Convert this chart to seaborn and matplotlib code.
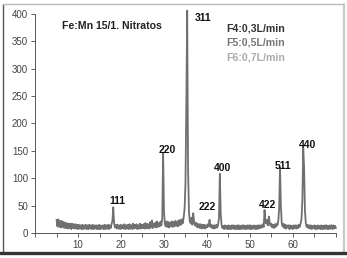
import numpy as np
import pandas as pd
import seaborn as sns
import matplotlib.pyplot as plt
from matplotlib.lines import Line2D

# 2-theta grid, 0.2 deg step from 5 to 70
two_theta = np.round(np.arange(5.0, 70.01, 0.2), 1)

# intensity (5 values per degree)
intensity = [
    24, 12, 25, 11, 22,   # 5
    10, 22, 11, 20, 9,    # 6
    19, 9, 18, 8, 17,     # 7
    9, 17, 7, 17, 9,      # 8
    16, 8, 16, 8, 15,     # 9
    7, 15, 8, 14, 7,      # 10
    15, 7, 14, 8, 15,     # 11
    7, 14, 7, 15, 8,      # 12
    14, 7, 15, 7, 14,     # 13
    8, 14, 7, 14, 7,      # 14
    15, 7, 13, 8, 14,     # 15
    7, 15, 7, 14, 8,      # 16
    15, 7, 14, 9, 16,     # 17
    22, 47, 18, 10, 15,   # 18
    8, 15, 8, 14, 7,      # 19
    15, 8, 14, 8, 16,     # 20
    7, 14, 8, 15, 7,      # 21
    16, 8, 14, 7, 17,     # 22
    8, 15, 9, 16, 7,      # 23
    14, 8, 17, 8, 15,     # 24
    9, 16, 8, 18, 8,      # 25
    17, 9, 16, 8, 20,     # 26
    10, 23, 9, 17, 11,    # 27
    19, 10, 21, 11, 18,   # 28
    12, 21, 14, 28, 146,  # 29
    40, 17, 12, 21, 11,   # 30
    20, 10, 19, 12, 21,   # 31
    11, 20, 12, 22, 13,   # 32
    21, 12, 23, 14, 24,   # 33
    15, 25, 18, 30, 45,   # 34
    90, 235, 406, 120, 40,  # 35
    22, 18, 28, 15, 36,   # 36
    21, 14, 19, 11, 17,   # 37
    10, 16, 9, 16, 8,     # 38
    15, 9, 15, 8, 14,     # 39
    10, 16, 12, 24, 11,   # 40
    15, 9, 14, 8, 14,     # 41
    9, 15, 10, 16, 28,    # 42
    108, 35, 15, 9, 13,   # 43
    7, 14, 8, 13, 7,      # 44
    14, 7, 13, 7, 14,     # 45
    8, 14, 7, 13, 7,      # 46
    14, 7, 14, 7, 13,     # 47
    7, 14, 8, 14, 7,      # 48
    13, 7, 14, 8, 14,     # 49
    7, 14, 7, 13, 8,      # 50
    14, 7, 13, 7, 14,     # 51
    8, 14, 9, 14, 10,     # 52
    16, 11, 42, 20, 17,   # 53
    24, 14, 30, 18, 13,   # 54
    17, 10, 15, 9, 16,    # 55
    11, 17, 14, 22, 45,   # 56
    119, 50, 18, 12, 17,  # 57
    9, 15, 8, 14, 10,     # 58
    14, 7, 14, 8, 13,     # 59
    7, 14, 9, 14, 8,      # 60
    14, 9, 15, 11, 18,    # 61
    26, 60, 155, 120, 40, # 62
    18, 11, 15, 9, 14,    # 63
    8, 14, 7, 13, 9,      # 64
    14, 7, 13, 7, 14,     # 65
    8, 13, 7, 14, 7,      # 66
    13, 7, 14, 8, 14,     # 67
    7, 13, 7, 14, 8,      # 68
    14, 7, 14, 8, 13,     # 69
    9,                    # 70
]

# peak labels (hkl) and where they sit
peak_labels = ["111", "220", "311", "222", "400", "422", "511", "440"]
peak_label_x = [19.2, 30.7, 39.1, 40.0, 43.7, 54.2, 57.7, 63.3]
peak_label_y = [58, 152, 392, 47, 119, 51, 122, 161]

series_names = ["F4:0,3L/min", "F5:0,5L/min", "F6:0,7L/min"]
series_colors = ["#333333", "#777777", "#aaaaaa"]

x_ticks = list(range(0, 71, 5))
x_tick_labels = ["" if (t % 10 or t in (0, 70)) else str(t) for t in x_ticks]
y_ticks = list(range(0, 401, 50))

title = "Fe:Mn 15/1. Nitratos"


def main():
    df = pd.DataFrame({"two_theta": two_theta, "intensity": intensity})

    sns.set_theme(style="white")
    plt.rcParams["font.family"] = ["Liberation Sans", "DejaVu Sans"]

    fig = plt.figure(figsize=(3.47, 2.58), dpi=100)
    ax = fig.add_axes([0.101, 0.097, 0.867, 0.849])

    sns.lineplot(data=df, x="two_theta", y="intensity", ax=ax,
                 color="#707070", linewidth=1.3, clip_on=False)

    ax.set_xlim(0, 70)
    ax.set_ylim(0, 400)
    ax.set_xlabel("")
    ax.set_ylabel("")
    ax.set_xticks(x_ticks)
    ax.set_xticklabels(x_tick_labels)
    ax.set_yticks(y_ticks)
    ax.tick_params(axis="both", labelsize=7, colors="#444444", length=3,
                   width=0.6, pad=2, direction="out")
    ax.tick_params(axis="x", bottom=True)
    ax.tick_params(axis="y", left=True)
    for side in ["top", "right"]:
        ax.spines[side].set_visible(False)
    for side in ["left", "bottom"]:
        ax.spines[side].set_color("#555555")
        ax.spines[side].set_linewidth(0.7)

    # title and legend-like labels
    ax.text(6.3, 378, title, fontsize=7.6, fontweight="bold", color="#222222",
            va="center", ha="left")
    for i, (name, col) in enumerate(zip(series_names, series_colors)):
        ax.text(44.4, 374 - 27 * i, name, fontsize=7.6, fontweight="bold",
                color=col, va="center", ha="left")

    # hkl labels
    for lab, px, py in zip(peak_labels, peak_label_x, peak_label_y):
        ax.text(px, py, lab, fontsize=7.5, fontweight="bold", color="#111111",
                ha="center", va="center")

    # outer frame like the original screenshot
    W, H = 347.0, 258.0
    fig.add_artist(Line2D([2.5 / W, 2.5 / W], [1 - 252 / H, 1 - 4 / H],
                          color="#555555", lw=1.0, transform=fig.transFigure))
    fig.add_artist(Line2D([2.5 / W, 344 / W], [1 - 4 / H, 1 - 4 / H],
                          color="#bbbbbb", lw=1.0, transform=fig.transFigure))
    fig.add_artist(Line2D([344 / W, 344 / W], [1 - 4 / H, 1 - 252 / H],
                          color="#c8c8c8", lw=1.6, transform=fig.transFigure))
    fig.add_artist(Line2D([0, 346 / W], [1 - 253 / H, 1 - 253 / H],
                          color="#333333", lw=2.4, transform=fig.transFigure))

    fig.savefig("out.png", dpi=100)


if __name__ == "__main__":
    main()
